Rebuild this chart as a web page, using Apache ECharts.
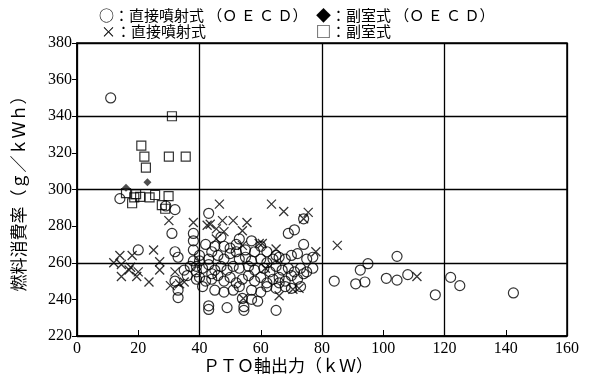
<!DOCTYPE html>
<html>
<head>
<meta charset="utf-8">
<script src="https://cdn.jsdelivr.net/npm/echarts@6/dist/echarts.min.js"></script>
<style>
    html, body { margin: 0; padding: 0; background: #fff; }
    #chart { width: 589px; height: 382px; }
</style>
</head>
<body>
<div id="chart"></div>
<script>
    // ○ 直接噴射式 (OECD)
    var circleData = [
        [11, 350], [14, 295], [29, 291], [32, 289], [20, 267], [31, 276], [32, 266], [33, 263],
        [32, 250], [33, 245], [33, 241], [37, 258], [38, 261], [39, 255], [39, 251], [38, 272],
        [38, 276], [38, 267], [35, 256], [36, 253],
        [43, 287], [42, 270], [45, 269], [48, 269], [50, 268], [52, 270], [55, 267], [58, 266],
        [62, 266], [65, 264], [69, 276], [71, 278], [74, 270], [60, 269], [57, 272], [47, 274], [53, 273],
        [40, 264], [43, 262], [46, 264], [48, 262], [50, 265], [53, 262], [55, 263], [57, 261],
        [60, 262], [62, 260], [64, 262], [66, 263], [68, 262], [70, 264], [72, 265], [75, 262],
        [77, 263], [44, 266], [52, 266],
        [39, 258], [41, 257], [43, 259], [45, 256], [47, 258], [49, 256], [51, 258], [53, 257],
        [56, 258], [58, 256], [61, 257], [63, 255], [65, 258], [67, 256], [69, 257], [71, 255],
        [73, 257], [75, 255], [77, 257], [40, 261], [44, 254],
        [40, 252], [42, 250], [44, 251], [46, 253], [48, 250], [50, 252], [52, 249], [54, 251],
        [56, 253], [58, 250], [60, 252], [62, 249], [64, 251], [66, 252], [68, 250], [70, 253],
        [72, 251], [74, 254],
        [41, 247], [45, 245], [48, 244], [51, 245], [53, 247], [57, 245], [60, 244], [62, 247],
        [65, 246], [68, 247], [70, 246], [73, 247], [66, 249],
        [43, 236.5], [43, 234.5], [49, 235.5], [54.5, 236], [54.5, 234], [57, 240], [59, 239],
        [54, 240.5], [65, 234], [74, 284],
        [84, 250], [91, 248.5], [94, 249.5], [92.5, 256], [95, 259.5], [104.5, 263.5], [101, 251.5],
        [104.5, 250.5], [108, 253.5], [117, 242.5], [122, 252], [125, 247.5], [142.5, 243.5]
    ];
    // × 直接噴射式
    var crossData = [
        [12, 260], [14, 264], [14.5, 259], [14.5, 252.5], [17, 256], [18, 264], [19.5, 252.5],
        [20, 255], [17.5, 257.5], [23.5, 249.5], [25, 267], [27, 260.5], [27, 256], [30, 283],
        [30.5, 247.5], [32, 255], [33.5, 248.5], [35, 249.5], [38, 282], [42.5, 280.5],
        [46.5, 292], [63.5, 292], [67.5, 288], [75.5, 287.5], [43.5, 281], [47.5, 283], [51, 283],
        [55.5, 282], [45.5, 278.5], [48, 277], [54, 277.5], [45.5, 273], [54, 269.5], [59.5, 270.5],
        [60.5, 270.5], [65, 267.5], [78, 266], [72.5, 246], [70.5, 245.5], [66, 242], [85, 269.5],
        [111, 252.5], [74, 284], [61.5, 257], [54.3, 240.5]
    ];
    // □ 副室式
    var squareData = [
        [31, 340], [21, 324], [22, 318], [30, 318], [35.5, 318], [22.5, 312], [16, 298], [18, 292.5],
        [18.7, 295.7], [20.6, 296], [23.7, 295.7], [25.5, 297], [29.9, 296.4], [27.7, 291.5],
        [28.8, 289.5], [19.3, 297.5]
    ];
    // ◆ 副室式 (OECD)
    var diamondData = [[23, 304], [16, 301]];

    var xTicks = [0, 20, 40, 60, 80, 100, 120, 140, 160];
    var yTicks = [220, 240, 260, 280, 300, 320, 340, 360, 380];

    var cjk = '"Noto Sans CJK JP", sans-serif';
    var num = '"Liberation Serif", serif';

    var chart = echarts.init(document.getElementById('chart'));

    var option = {
        animation: false,
        backgroundColor: '#fff',
        grid: {
            left: 77, right: 22, top: 43, bottom: 46,
            show: true, borderColor: '#000', borderWidth: 1.5
        },
        graphic: [
            { type: 'text', left: 99, top: 8, style: { text: '○：直接噴射式 （Ｏ Ｅ Ｃ Ｄ）', font: '15px ' + cjk, fill: '#000' } },
            { type: 'text', left: 316, top: 8, style: { text: '◆：副室式 （Ｏ Ｅ Ｃ Ｄ）', font: '15px ' + cjk, fill: '#000' } },
            { type: 'text', left: 101, top: 24, style: { text: '×：直接噴射式', font: '15px ' + cjk, fill: '#000' } },
            { type: 'text', left: 316, top: 24, style: { text: '□：副室式', font: '15px ' + cjk, fill: '#000' } },
            { type: 'text', left: 203, top: 357, style: { text: 'ＰＴＯ軸出力（ｋＷ）', font: '17px ' + cjk, fill: '#000' } }
        ],
        xAxis: [
            {
                type: 'value', min: xTicks[0], max: xTicks[xTicks.length - 1], interval: 20,
                axisLine: { lineStyle: { color: '#000', width: 1.5 } },
                axisTick: { inside: true, length: 6, lineStyle: { color: '#000' } },
                axisLabel: { color: '#000', fontFamily: num, fontSize: 16, margin: 5 },
                splitLine: { show: false }
            },
            {
                type: 'value', min: 0, max: 160, interval: 40, position: 'bottom',
                axisLine: { show: false }, axisTick: { show: false }, axisLabel: { show: false },
                splitLine: { show: true, lineStyle: { color: '#000', width: 1.3 } }
            }
        ],
        yAxis: [
            {
                type: 'value', min: yTicks[0], max: yTicks[yTicks.length - 1], interval: 20,
                name: '燃料消費率（ｇ／ｋＷｈ）', nameLocation: 'middle', nameGap: 50, nameRotate: 90,
                nameTextStyle: { color: '#000', fontFamily: cjk, fontSize: 17 },
                axisLine: { lineStyle: { color: '#000', width: 1.5 } },
                axisTick: { length: 5, lineStyle: { color: '#000' } },
                axisLabel: { color: '#000', fontFamily: num, fontSize: 16, margin: 5 },
                splitLine: { show: false }
            },
            {
                type: 'value', min: 220, max: 380, interval: 40, position: 'left',
                axisLine: { show: false }, axisTick: { show: false }, axisLabel: { show: false },
                splitLine: { show: true, lineStyle: { color: '#000', width: 1.3 } }
            }
        ],
        series: [
            {
                name: '直接噴射式（OECD）', type: 'scatter', data: circleData,
                symbol: 'circle', symbolSize: 10,
                itemStyle: { color: 'rgba(0,0,0,0)', borderColor: '#000', borderWidth: 1.2 }
            },
            {
                name: '直接噴射式', type: 'scatter', data: crossData,
                symbol: 'path://M0,0L10,10M10,0L0,10', symbolSize: 9,
                itemStyle: { color: 'rgba(0,0,0,0)', borderColor: '#000', borderWidth: 1.3 }
            },
            {
                name: '副室式', type: 'scatter', data: squareData,
                symbol: 'rect', symbolSize: 9,
                itemStyle: { color: 'rgba(0,0,0,0)', borderColor: '#000', borderWidth: 1.2 }
            },
            {
                name: '副室式（OECD）', type: 'scatter', data: diamondData,
                symbol: 'diamond', symbolSize: 8,
                itemStyle: { color: '#222' }
            }
        ]
    };

    chart.setOption(option);
</script>
</body>
</html>
